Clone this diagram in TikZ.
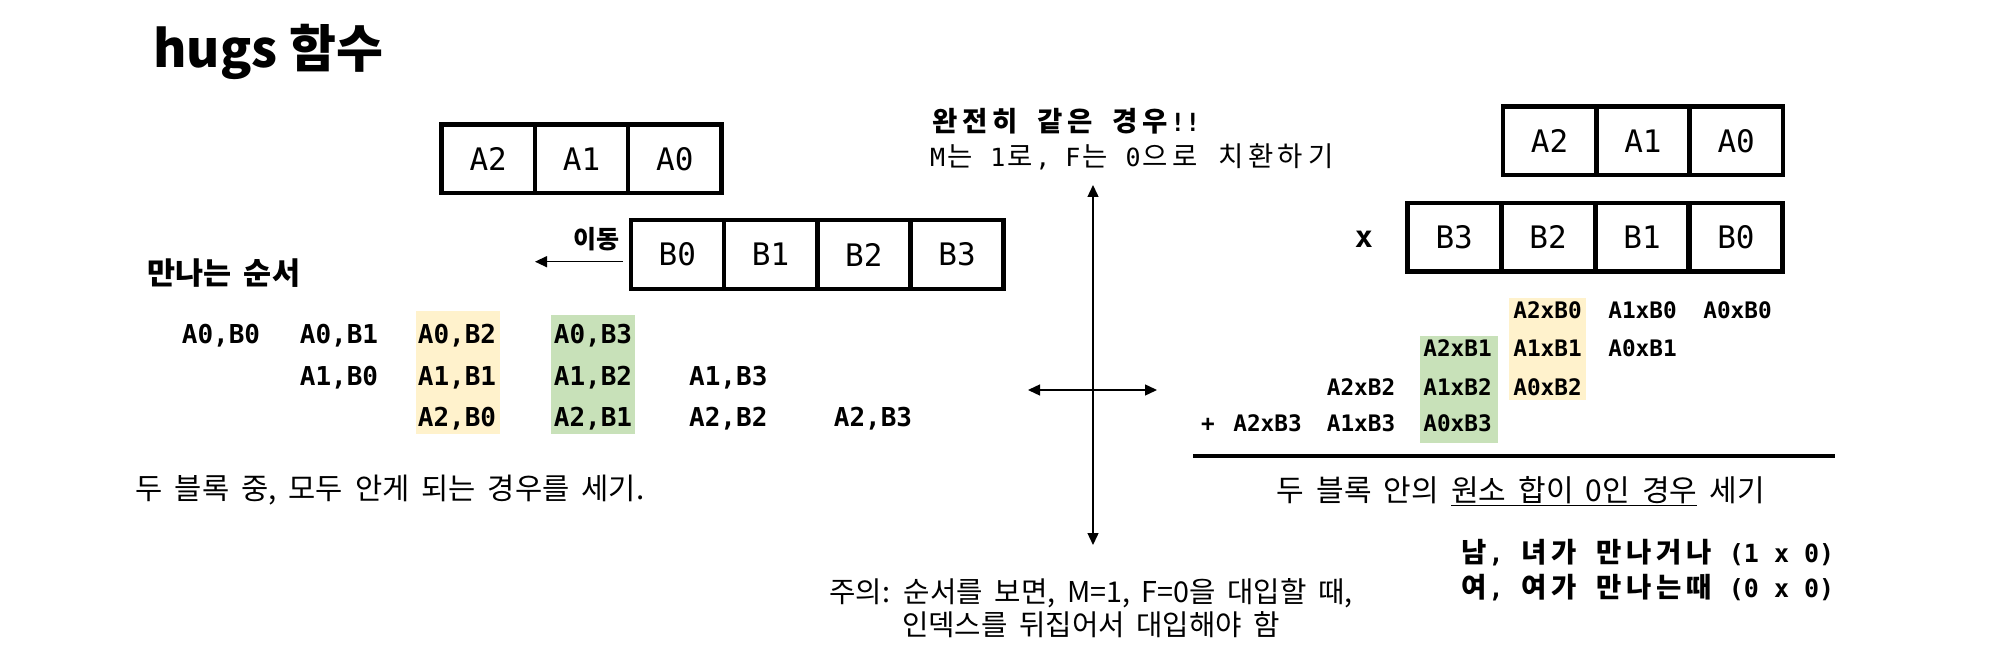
\documentclass[tikz,border=0pt]{standalone}
\usepackage{fontspec}
\setmainfont{Noto Sans CJK KR}
\newfontfamily\kr{Noto Sans CJK KR}[WordSpace=1.8]
\newfontfamily\krm{Noto Sans CJK KR}[Scale=1.1]
\newfontfamily\mono{DejaVu Sans Mono}
% each Hangul syllable takes two monospace cells
\newcommand\hg[1]{\hgloop#1\relax}
\def\hgloop#1{\ifx#1\relax\else\makebox[1.2em][c]{\krm #1}\expandafter\hgloop\fi}
\usetikzlibrary{arrows.meta}
\definecolor{hlyellow}{RGB}{255,242,204}
\definecolor{hlgreen}{RGB}{200,225,185}
\tikzset{
 cell/.style={draw, line width=4.5pt, inner sep=0pt, minimum width=93.3pt, minimum height=68.5pt, font=\mono\fontsize{31}{36}\selectfont},
 pair/.style={anchor=base, inner sep=0pt, font=\mono\bfseries\fontsize{26}{30}\selectfont},
 prod/.style={anchor=base, inner sep=0pt, font=\mono\bfseries\fontsize{22.7}{27}\selectfont},
 ktext/.style={inner sep=0pt, anchor=west, font=\kr\fontsize{30}{36}\selectfont},
 mtext/.style={inner sep=0pt, anchor=west, font=\mono\fontsize{25}{30}\selectfont},
 mbtext/.style={inner sep=0pt, anchor=west, font=\mono\bfseries\fontsize{25}{30}\selectfont},
 thinarrow/.style={line width=1.4pt, -{Triangle[length=12pt,width=11pt]}},
 bothways/.style={line width=1.4pt, {Triangle[length=12pt,width=11pt]}-{Triangle[length=12pt,width=11pt]}},
}
\begin{document}
\begin{tikzpicture}[x=1pt,y=-1pt]
\useasboundingbox (0,0) rectangle (2002,663);

% highlights
\fill[hlyellow] (416,311) rectangle (500,434);
\fill[hlgreen] (551,315) rectangle (635,434);
\fill[hlyellow] (1509,298) rectangle (1586,400);
\fill[hlgreen] (1420,336) rectangle (1498,443);

% title
\node[inner sep=0pt, anchor=west, font=\rmfamily\bfseries\fontsize{51}{60}\selectfont] (title) at (153,52) {hugs 함수};

% left blocks
\node[cell] (la2) at (488.2,159) {A2};
\node[cell] (la1) at (581.5,159) {A1};
\node[cell] (la0) at (674.8,159) {A0};
\node[cell] (lb0) at (677.4,254.5) {B0};
\node[cell] (lb1) at (770.6,254.5) {B1};
\node[cell] (lb2) at (863.8,254.5) {B2};
\node[cell] (lb3) at (957,254.5) {B3};

\node[inner sep=0pt, font=\kr\bfseries\fontsize{25}{29}\selectfont] (move) at (596.5,239) {이동};
\coordinate (mvs) at (623,261.7);
\coordinate (mve) at (535,261.7);
\draw[thinarrow] (mvs) -- (mve);

\node[inner sep=0pt, anchor=west, font=\kr\bfseries\fontsize{30.5}{35}\selectfont] (order) at (147,273.5) {만나는 순서};

% pairs
\node[pair] (p00) at (221,343.3) {A0,B0};
\node[pair] (p01) at (339,343.3) {A0,B1};
\node[pair] (p02) at (457,343.3) {A0,B2};
\node[pair] (p03) at (593,343.3) {A0,B3};
\node[pair] (p10) at (339,385) {A1,B0};
\node[pair] (p11) at (457,385) {A1,B1};
\node[pair] (p12) at (593,385) {A1,B2};
\node[pair] (p13) at (728.3,385) {A1,B3};
\node[pair] (p20) at (457,426.7) {A2,B0};
\node[pair] (p21) at (593,426.7) {A2,B1};
\node[pair] (p22) at (728.3,426.7) {A2,B2};
\node[pair] (p23) at (873,426.7) {A2,B3};

\node[ktext, font=\kr\fontsize{29.6}{36}\selectfont] (lnote) at (135.6,490) {두 블록 중, 모두 안게 되는 경우를 세기.};

% axes
\coordinate (vt) at (1093,185);
\coordinate (vb) at (1093,545);
\coordinate (hl) at (1028,390);
\coordinate (hr) at (1157,390);
\draw[bothways] (vt) -- (vb);
\draw[bothways] (hl) -- (hr);

\node[mbtext] (same) at (930,121) {\hg{완전히} \hg{같은} \hg{경우}!!};
\node[mtext] (subst) at (930,157) {M\hg{는} 1\hg{로}, F\hg{는} 0\hg{으로} \hg{치환하기}};

\node[inner sep=0pt, align=center, font=\kr\fontsize{28.7}{32.5}\selectfont] (caution) at (1091,608) {주의: 순서를 보면, M=1, F=0을 대입할 때,\\인덱스를 뒤집어서 대입해야 함};

% right blocks
\node[cell] (ra2) at (1549.6,141) {A2};
\node[cell] (ra1) at (1642.9,141) {A1};
\node[cell] (ra0) at (1736.2,141) {A0};
\node[cell] (rb3) at (1454.2,237.3) {B3};
\node[cell] (rb2) at (1548.1,237.3) {B2};
\node[cell] (rb1) at (1642,237.3) {B1};
\node[cell] (rb0) at (1735.9,237.3) {B0};
\node[inner sep=0pt, font=\mono\bfseries\fontsize{30}{34}\selectfont] (times) at (1364,239) {x};

% products
\node[prod] (q20) at (1547.5,318) {A2xB0};
\node[prod] (q10) at (1642.5,318) {A1xB0};
\node[prod] (q00) at (1737.5,318) {A0xB0};
\node[prod] (q21) at (1457.5,356.7) {A2xB1};
\node[prod] (q11) at (1547.5,356.7) {A1xB1};
\node[prod] (q01) at (1642.5,356.7) {A0xB1};
\node[prod] (q22) at (1361,395) {A2xB2};
\node[prod] (q12) at (1457.5,395) {A1xB2};
\node[prod] (q02) at (1547.5,395) {A0xB2};
\node[prod] (q23) at (1267.5,431.7) {A2xB3};
\node[prod] (q13) at (1361,431.7) {A1xB3};
\node[prod] (q03) at (1457.5,431.7) {A0xB3};
\node[prod] (plus) at (1208,431.7) {+};

\coordinate (rl) at (1193,456.3);
\coordinate (rr) at (1835,456.3);
\draw[line width=4pt] (rl) -- (rr);

\node[ktext] (rnote) at (1276.7,491) {두 블록 안의 \underline{원소 합이 0인 경우} 세기};

\node[mbtext] (mf) at (1458.5,552.5) {\hg{남}, \hg{녀가} \hg{만나거나} (1 x 0)};
\node[mbtext] (ff) at (1458.5,588) {\hg{여}, \hg{여가} \hg{만나는때} (0 x 0)};
\end{tikzpicture}
\end{document}
